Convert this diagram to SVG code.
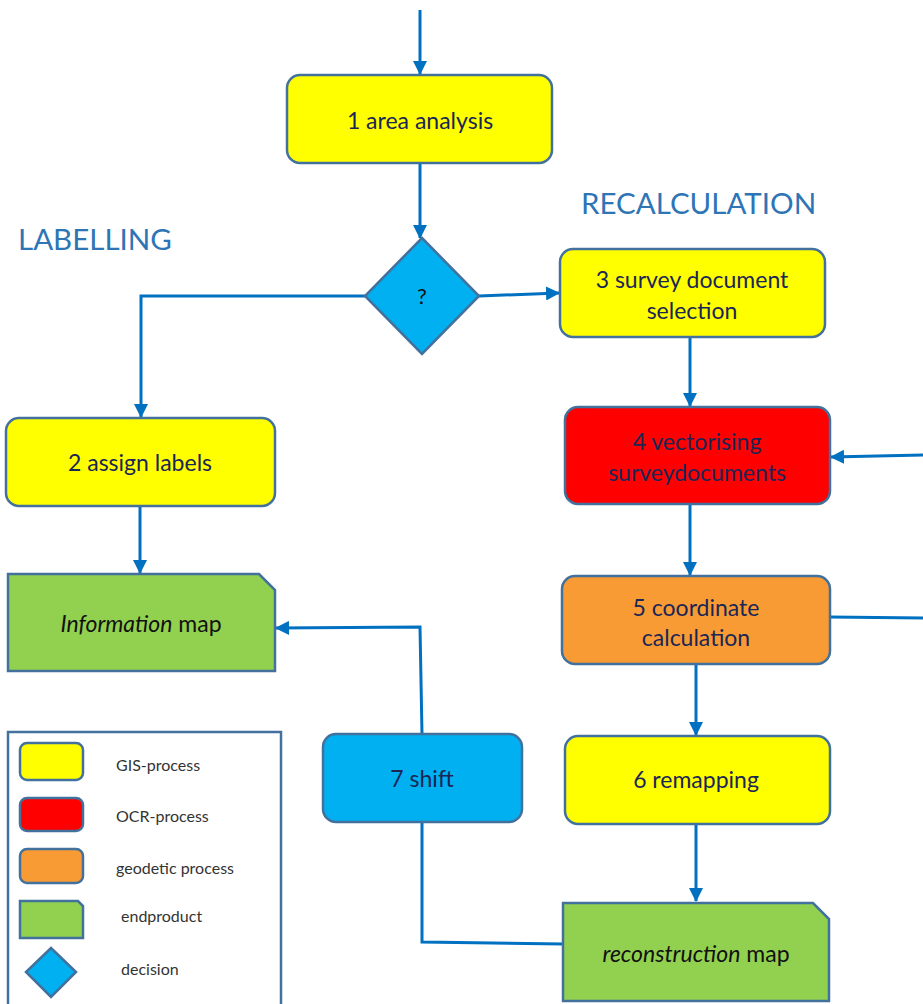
<svg xmlns="http://www.w3.org/2000/svg" width="923" height="1004" viewBox="0 0 923 1004">
<defs>
<marker id="ah" markerUnits="userSpaceOnUse" markerWidth="14" markerHeight="14" viewBox="0 0 14 14" refX="13" refY="7" orient="auto">
<path d="M0,0 L14,7 L0,14 Z" fill="#0070c0"/>
</marker>
<style>
.node{stroke:#41719c;stroke-width:2.5}
.yel{fill:#ffff00}.red{fill:#ff0000}.org{fill:#f99b34}.grn{fill:#92d050}.blu{fill:#00b0f0}
.t{font-family:Lato,"Open Sans",sans-serif;font-size:23px;fill:#1a2656;text-anchor:middle}
.tb{font-family:Lato,"Open Sans",sans-serif;font-size:23px;fill:#111;text-anchor:middle}
.lg{font-family:Lato,"Open Sans",sans-serif;font-size:16px;fill:#333}
.hd{font-family:Lato,"Open Sans",sans-serif;font-size:29.5px;fill:#2e75b6}
.c{fill:none;stroke:#0070c0;stroke-width:3}
</style>
</defs>
<rect width="923" height="1004" fill="#fff"/>
<text class="hd" x="18" y="250">LABELLING</text>
<text class="hd" x="581" y="214">RECALCULATION</text>
<g id="connectors">
<path class="c" d="M420,10 L420,74" marker-end="url(#ah)"/>
<path class="c" d="M420,163 L420,238" marker-end="url(#ah)"/>
<path class="c" d="M479,296 L559,293" marker-end="url(#ah)"/>
<path class="c" d="M365,296 L141,296 L141,417" marker-end="url(#ah)"/>
<path class="c" d="M690,337 L690,406" marker-end="url(#ah)"/>
<path class="c" d="M923,455 L831,457" marker-end="url(#ah)"/>
<path class="c" d="M690,504 L690,575" marker-end="url(#ah)"/>
<path class="c" d="M830,617 L923,618"/>
<path class="c" d="M696,664 L696,735" marker-end="url(#ah)"/>
<path class="c" d="M696,824 L696,901" marker-end="url(#ah)"/>
<path class="c" d="M563,944 L422,942 L422,823"/>
<path class="c" d="M422,734 L420,627 L276,628" marker-end="url(#ah)"/>
<path class="c" d="M140,506 L140,573" marker-end="url(#ah)"/>
</g>
<g id="n1"><rect class="node yel" x="287" y="75" width="265" height="88" rx="13"/><text class="t" x="420" y="129">1 area analysis</text></g>
<g id="decision"><path class="node blu" d="M422,238 L479,296 L422,354 L365,296 Z"/><text class="t" x="422" y="304" style="fill:#111;font-size:22px">?</text></g>
<g id="n3"><rect class="node yel" x="560" y="249" width="265" height="88" rx="13"/><text class="t" x="692" y="288">3 survey document</text><text class="t" x="692" y="319">selection</text></g>
<g id="n4"><rect class="node red" x="565" y="407" width="265" height="97" rx="13"/><text class="t" x="697" y="450">4 vectorising</text><text class="t" x="697" y="481">surveydocuments</text></g>
<g id="n5"><rect class="node org" x="562" y="576" width="268" height="88" rx="13"/><text class="t" x="696" y="616">5 coordinate</text><text class="t" x="696" y="646">calculation</text></g>
<g id="n6"><rect class="node yel" x="565" y="736" width="265" height="88" rx="13"/><text class="t" x="696" y="788">6 remapping</text></g>
<g id="n7"><rect class="node blu" x="323" y="734" width="199" height="88" rx="13"/><text class="t" x="422" y="787">7 shift</text></g>
<g id="n2"><rect class="node yel" x="6" y="418" width="269" height="88" rx="13"/><text class="t" x="140" y="471">2 assign labels</text></g>
<g id="infomap"><path class="node grn" d="M8,574 L259,574 L275,590 L275,671 L8,671 Z"/><text class="tb" x="141" y="632"><tspan font-style="italic">Information</tspan> map</text></g>
<g id="reconmap"><path class="node grn" d="M563,903 L813,903 L829,919 L829,1001 L563,1001 Z"/><text class="tb" x="696" y="962"><tspan font-style="italic">reconstruction</tspan> map</text></g>
<g id="legend">
<rect x="8" y="732" width="273" height="290" fill="#fff" stroke="#41719c" stroke-width="2.5"/>
<rect class="node yel" x="20" y="743" width="63" height="37" rx="7"/>
<text class="lg" x="116" y="771">GIS-process</text>
<rect class="node red" x="20" y="798" width="63" height="33" rx="7"/>
<text class="lg" x="116" y="822">OCR-process</text>
<rect class="node org" x="20" y="849" width="63" height="34" rx="7"/>
<text class="lg" x="116" y="874">geodetic process</text>
<path class="node grn" d="M20,901 L78,901 L83,906 L83,938 L20,938 Z"/>
<text class="lg" x="121" y="922">endproduct</text>
<path class="node blu" d="M51,948 L76,972 L51,997 L26,972 Z"/>
<text class="lg" x="121" y="975">decision</text>
</g>
</svg>
